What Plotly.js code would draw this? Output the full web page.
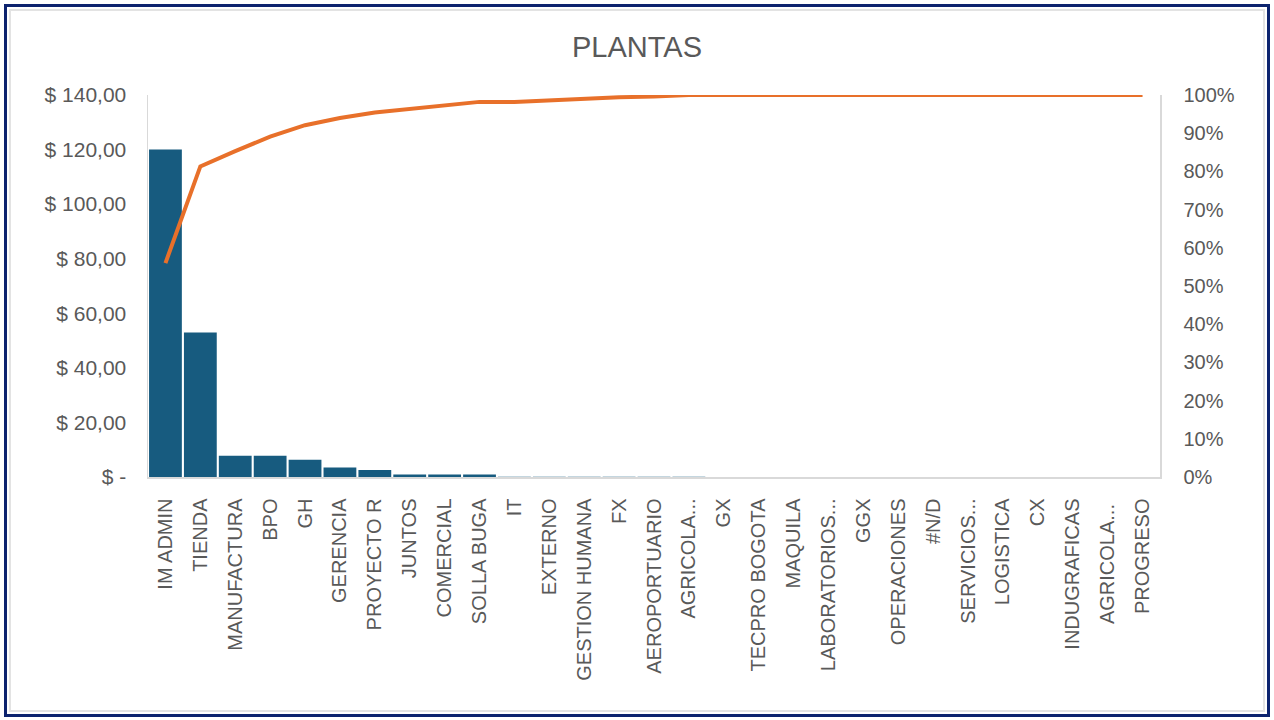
<!DOCTYPE html>
<html>
<head>
<meta charset="utf-8">
<script src="https://cdn.plot.ly/plotly-3.0.1.min.js"></script>
<style>
  html, body { margin: 0; padding: 0; background: #ffffff; }
  #wrap { position: relative; width: 1274px; height: 720px; overflow: hidden; }
  #chart { position: absolute; left: 0; top: 0; width: 1274px; height: 720px; }
  #frame { position: absolute; left: 4px; top: 4px; width: 1260px; height: 707px;
           border: 3px solid #0c236e; pointer-events: none; }
  #inner { position: absolute; left: 2px; top: 2px; right: 2px; bottom: 2px;
           border: 2px solid #e3e3e3; pointer-events: none; }
</style>
</head>
<body>
<div id="wrap">
  <div id="chart"></div>
  <div id="frame"><div id="inner"></div></div>
</div>
<script>
const categories = ["IM ADMIN","TIENDA","MANUFACTURA","BPO","GH","GERENCIA","PROYECTO R","JUNTOS","COMERCIAL","SOLLA BUGA","IT","EXTERNO","GESTION HUMANA","FX","AEROPORTUARIO","AGRICOLA...","GX","TECPRO BOGOTA","MAQUILA","LABORATORIOS...","GGX","OPERACIONES","#N/D","SERVICIOS...","LOGISTICA","CX","INDUGRAFICAS","AGRICOLA... ","PROGRESO"];
const amounts = [120.0,53.0,7.8,7.8,6.3,3.5,2.6,0.9,0.9,0.9,0.08,0.08,0.08,0.08,0.06,0.06,0.02,0.02,0.02,0.02,0.02,0.02,0.02,0.02,0.02,0.02,0.02,0.02,0.02];
const cumulativePct = [0.56,0.813,0.853,0.891,0.921,0.940,0.954,0.964,0.973,0.982,0.982,0.986,0.991,0.994,0.996,1.0,1.0,1.0,1.0,1.0,1.0,1.0,1.0,1.0,1.0,1.0,1.0,1.0,1.0];
const leftTickVals = [0,20,40,60,80,100,120,140];
const leftTickText = ["$ -","$ 20,00","$ 40,00","$ 60,00","$ 80,00","$ 100,00","$ 120,00","$ 140,00"];
const rightTickVals = [0,0.1,0.2,0.3,0.4,0.5,0.6,0.7,0.8,0.9,1.0];
const rightTickText = ["0%","10%","20%","30%","40%","50%","60%","70%","80%","90%","100%"];

const fontFam = "Liberation Sans, Arial, sans-serif";
const grey = "#595959";

const traces = [
  {
    type: "bar",
    x: categories,
    y: amounts,
    marker: { color: "#175b7f", line: { width: 0 } },
    hoverinfo: "x+y",
    showlegend: false
  },
  {
    type: "scatter",
    mode: "lines",
    x: categories,
    y: cumulativePct,
    yaxis: "y2",
    line: { color: "#e8702a", width: 4 },
    cliponaxis: false,
    showlegend: false
  }
];

const layout = {
  width: 1274,
  height: 720,
  margin: { l: 148, r: 114, t: 95, b: 243 },
  paper_bgcolor: "rgba(0,0,0,0)",
  plot_bgcolor: "rgba(0,0,0,0)",
  bargap: 0.06,
  title: {
    text: "PLANTAS",
    x: 0.5, xanchor: "center",
    y: 0.935, yanchor: "middle",
    font: { family: fontFam, size: 29, color: grey }
  },
  xaxis: {
    type: "category",
    tickangle: -90,
    tickfont: { family: fontFam, size: 20, color: grey },
    showgrid: false,
    showline: true,
    linecolor: "#d9d9d9",
    linewidth: 1.5,
    ticks: "outside",
    ticklen: 12,
    tickcolor: "rgba(0,0,0,0)",
    zeroline: false
  },
  yaxis: {
    range: [0, 140],
    tickvals: leftTickVals,
    ticktext: leftTickText,
    tickfont: { family: fontFam, size: 21, color: grey },
    showgrid: false,
    showline: true,
    linecolor: "#d9d9d9",
    linewidth: 1.5,
    ticks: "outside",
    ticklen: 16,
    tickcolor: "rgba(0,0,0,0)",
    zeroline: false
  },
  yaxis2: {
    overlaying: "y",
    side: "right",
    range: [0, 1],
    tickvals: rightTickVals,
    ticktext: rightTickText,
    tickfont: { family: fontFam, size: 20, color: grey },
    showgrid: false,
    showline: true,
    linecolor: "#d9d9d9",
    linewidth: 1.5,
    ticks: "outside",
    ticklen: 18,
    tickcolor: "rgba(0,0,0,0)",
    zeroline: false
  }
};

Plotly.newPlot("chart", traces, layout, { displayModeBar: false, staticPlot: true });
</script>
</body>
</html>
